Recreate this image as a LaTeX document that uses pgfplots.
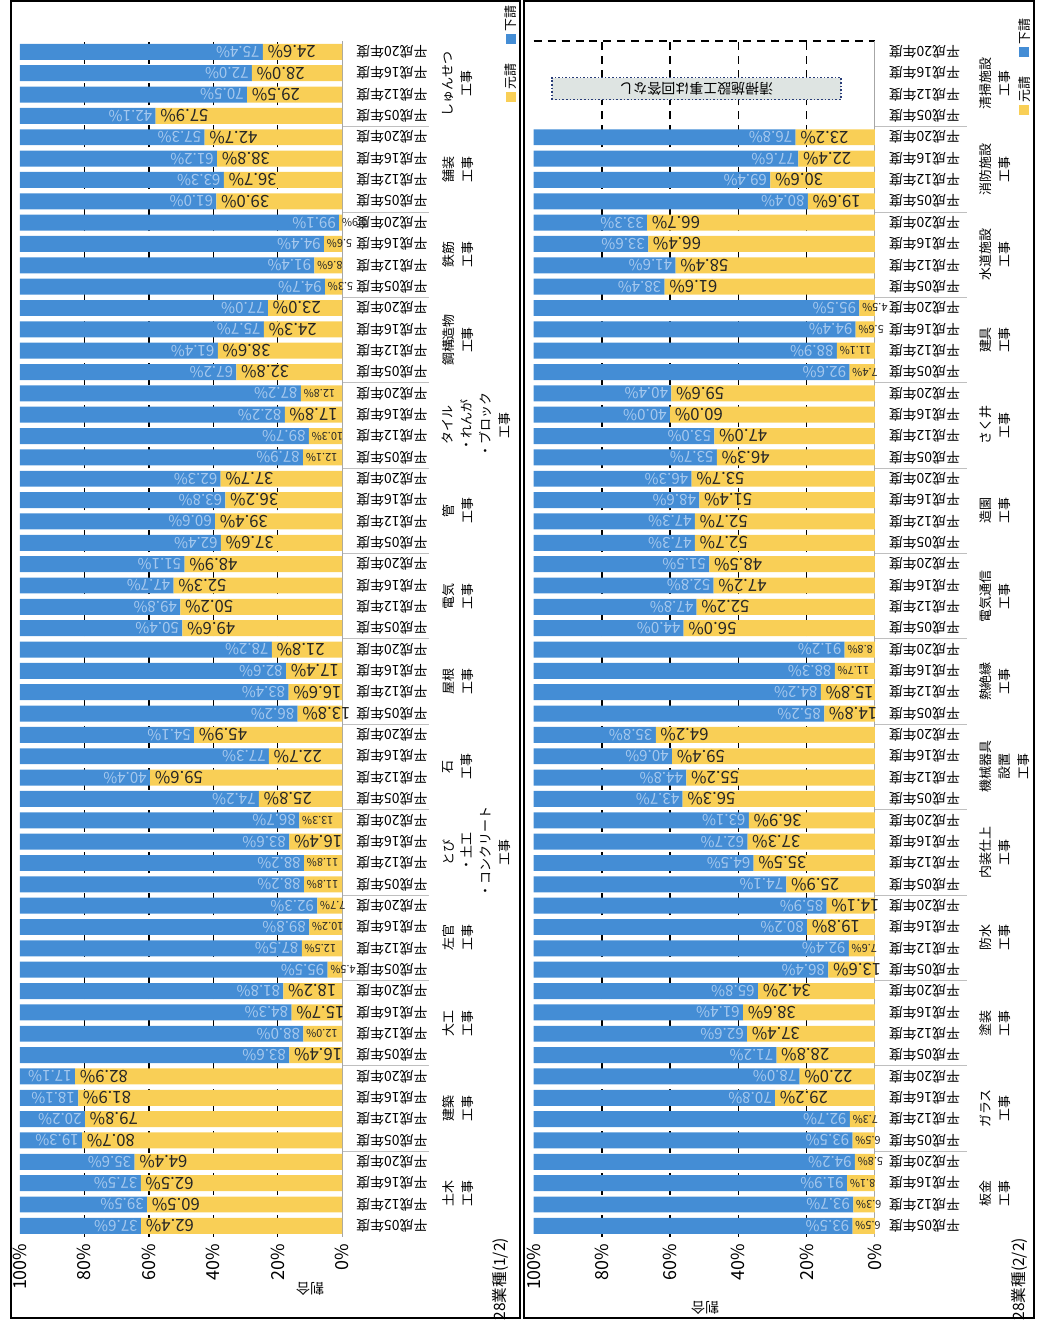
\documentclass[border=0pt]{standalone}
\usepackage{pgfplots}
\pgfplotsset{compat=1.18}
\usepackage{pgfplotstable}
\usepackage{fontspec}
\setmainfont{Noto Sans CJK JP}
\definecolor{gen}{RGB}{249,207,86}
\definecolor{sub}{RGB}{68,141,213}
\definecolor{sublbl}{RGB}{165,200,238}
\definecolor{boxfill}{RGB}{222,228,226}
\definecolor{boxline}{RGB}{40,60,120}

% left panel: y index, gen = 元請 (%), sub = 下請 (%)
\pgfplotstableread{
y gen sub
0 62.4 37.6
1 60.5 39.5
2 62.5 37.5
3 64.4 35.6
4 80.7 19.3
5 79.8 20.2
6 81.9 18.1
7 82.9 17.1
8 16.4 83.6
9 12.0 88.0
10 15.7 84.3
11 18.2 81.8
12 4.5 95.5
13 12.5 87.5
14 10.2 89.8
15 7.7 92.3
16 11.8 88.2
17 11.8 88.2
18 16.4 83.6
19 13.3 86.7
20 25.8 74.2
21 59.6 40.4
22 22.7 77.3
23 45.9 54.1
24 13.8 86.2
25 16.6 83.4
26 17.4 82.6
27 21.8 78.2
28 49.6 50.4
29 50.2 49.8
30 52.3 47.7
31 48.9 51.1
32 37.6 62.4
33 39.4 60.6
34 36.2 63.8
35 37.7 62.3
36 12.1 87.9
37 10.3 89.7
38 17.8 82.2
39 12.8 87.2
40 32.8 67.2
41 38.6 61.4
42 24.3 75.7
43 23.0 77.0
44 5.3 94.7
45 8.6 91.4
46 5.6 94.4
47 0.9 99.1
48 39.0 61.0
49 36.7 63.3
50 38.8 61.2
51 42.7 57.3
52 57.9 42.1
53 29.5 70.5
54 28.0 72.0
55 24.6 75.4
}\leftdata

\pgfplotstableread{
y gen sub
0 6.5 93.5
1 6.3 93.7
2 8.1 91.9
3 5.8 94.2
4 6.5 93.5
5 7.3 92.7
6 29.2 70.8
7 22.0 78.0
8 28.8 71.2
9 37.4 62.6
10 38.6 61.4
11 34.2 65.8
12 13.6 86.4
13 7.6 92.4
14 19.8 80.2
15 14.1 85.9
16 25.9 74.1
17 35.5 64.5
18 37.3 62.7
19 36.9 63.1
20 56.3 43.7
21 55.2 44.8
22 59.4 40.6
23 64.2 35.8
24 14.8 85.2
25 15.8 84.2
26 11.7 88.3
27 8.8 91.2
28 56.0 44.0
29 52.2 47.8
30 47.2 52.8
31 48.5 51.5
32 52.7 47.3
33 52.7 47.3
34 51.4 48.6
35 53.7 46.3
36 46.3 53.7
37 47.0 53.0
38 60.0 40.0
39 59.6 40.4
40 7.4 92.6
41 11.1 88.9
42 5.6 94.4
43 4.5 95.5
44 61.6 38.4
45 58.4 41.6
46 66.4 33.6
47 66.7 33.3
48 19.6 80.4
49 30.6 69.4
50 22.4 77.6
51 23.2 76.8
}\rightdata

\tikzset{grp/.style={rotate=90, anchor=north, align=center, inner sep=0pt, font=\fontsize{6.5}{9.5}\selectfont}}

\pgfplotsset{
  /pgf/number format/assume math mode=true,
  base/.style={
    scale only axis, x dir=reverse,
    xmin=0, xmax=100, ymin=-0.5, ymax=55.5,
    height=599.2pt, anchor=south west, clip=false,
  },
  bars/.style={
    base, xbar stacked, bar width=8pt,
    axis line style={draw=none},
    xtick={0,20,40,60,80,100},
    xticklabel={\pgfmathprintnumber{\tick}\%},
    xticklabel style={rotate=90, anchor=east, font=\fontsize{9}{10}\selectfont},
    major tick length=0pt,
    ytick={0,...,55},
    yticklabel pos=right,
    yticklabel={\pgfmathparse{int(mod(\ticknum,4))}\ifcase\pgfmathresult 平成05年度\or 平成12年度\or 平成16年度\or 平成20年度\fi},
    yticklabel style={rotate=180, anchor=east, font=\fontsize{7}{8}\selectfont},
    yticklabel shift=3.5pt,
    extra x ticks={20,40,60,80},
    extra x tick labels={},
    extra x tick style={grid=major},
    major grid style={black, dash pattern=on 4pt off 3pt, line width=0.7pt},
  },
  lbl/.style={base, hide axis},
  genlbl/.style={draw=none, mark=none, point meta=explicit,
    nodes near coords={\pgfmathprintnumber[fixed,fixed zerofill,precision=1]{\pgfplotspointmeta}\%},
    every node near coord/.append style={rotate=180, anchor=east, inner sep=2.2pt, text=black!85, font=\fontsize{8.4}{9}\selectfont}},
  gensmall/.style={draw=none, mark=none, point meta=explicit,
    nodes near coords={\pgfmathprintnumber[fixed,fixed zerofill,precision=1]{\pgfplotspointmeta}\%},
    every node near coord/.append style={rotate=180, anchor=east, inner sep=1.2pt, text=black!85, font=\fontsize{5.5}{6}\selectfont}},
  sublbl/.style={draw=none, mark=none, point meta=explicit,
    nodes near coords={\pgfmathprintnumber[fixed,fixed zerofill,precision=1]{\pgfplotspointmeta}\%},
    every node near coord/.append style={rotate=180, anchor=west, inner sep=1.5pt, text=sublbl, font=\fontsize{7.6}{8}\selectfont}},
}

\begin{document}
\begin{tikzpicture}
\path (0,0) rectangle (520pt,663.5pt);
\draw[line width=1pt] (5.5pt,3pt) rectangle (260.5pt,663pt);
\draw[line width=1pt] (262.5pt,3pt) rectangle (518.5pt,663pt);

% ---------------- left panel (1/2) ----------------
\begin{axis}[bars, at={(10pt,43.65pt)}, width=161.5pt]
\addplot[fill=gen, draw=none] table[x=gen,y=y]{\leftdata};
\addplot[fill=sub, draw=none] table[x=sub,y=y]{\leftdata};
\draw[gray!70, line width=0.5pt] (axis cs:0,-0.5) -- (axis cs:0,55.5);
\pgfplotsinvokeforeach{3.5,7.5,11.5,15.5,19.5,23.5,27.5,31.5,35.5,39.5,43.5,47.5,51.5}{
  \draw[gray!50, line width=0.4pt] (axis cs:0,#1) -- (axis cs:-27,#1);}
\node[grp] at (axis cs:-31,1.5) {土木\\工事};
\node[grp] at (axis cs:-31,5.5) {建築\\工事};
\node[grp] at (axis cs:-31,9.5) {大工\\工事};
\node[grp] at (axis cs:-31,13.5) {左官\\工事};
\node[grp] at (axis cs:-31,17.5) {とび\\・土工\\・コンクリート\\工事};
\node[grp] at (axis cs:-31,21.5) {石\\工事};
\node[grp] at (axis cs:-31,25.5) {屋根\\工事};
\node[grp] at (axis cs:-31,29.5) {電気\\工事};
\node[grp] at (axis cs:-31,33.5) {管\\工事};
\node[grp] at (axis cs:-31,37.5) {タイル\\・れんが\\・ブロック\\工事};
\node[grp] at (axis cs:-31,41.5) {鋼構造物\\工事};
\node[grp] at (axis cs:-31,45.5) {鉄筋\\工事};
\node[grp] at (axis cs:-31,49.5) {舗装\\工事};
\node[grp] at (axis cs:-31,53.5) {しゅんせつ\\工事};
\node[rotate=180, font=\fontsize{7}{8}\selectfont] at (axis cs:9.9,-2.94) {割合};
\node[rotate=90, font=\fontsize{7.8}{9}\selectfont] at (axis cs:-49.2,-2.5) {28業種(1/2)};
\node[rotate=90, font=\fontsize{6.5}{8}\selectfont, inner sep=0pt] at (axis cs:-52.3,54.9)
  {\textcolor{gen}{\rule{5pt}{5pt}}\,元請\hspace{10pt}\textcolor{sub}{\rule{5pt}{5pt}}\,下請};
\end{axis}
\begin{axis}[lbl, at={(10pt,43.65pt)}, width=161.5pt]
\addplot[genlbl, restrict x to domain=13.5:100] table[x=gen,y=y,meta=gen]{\leftdata};
\addplot[gensmall, restrict x to domain=0:13.49] table[x=gen,y=y,meta=gen]{\leftdata};
\addplot[sublbl] table[x=gen,y=y,meta=sub]{\leftdata};
\end{axis}

% ---------------- right panel (2/2) ----------------
\begin{axis}[bars, at={(267.5pt,43.65pt)}, width=171pt]
\addplot[fill=gen, draw=none] table[x=gen,y=y]{\rightdata};
\addplot[fill=sub, draw=none] table[x=sub,y=y]{\rightdata};
\draw[gray!70, line width=0.5pt] (axis cs:0,-0.5) -- (axis cs:0,55.5);
\draw[black, dash pattern=on 4pt off 3pt, line width=0.7pt] (axis cs:100,55.5) -- (axis cs:0,55.5);
\pgfplotsinvokeforeach{3.5,7.5,11.5,15.5,19.5,23.5,27.5,31.5,35.5,39.5,43.5,47.5,51.5}{
  \draw[gray!50, line width=0.4pt] (axis cs:0,#1) -- (axis cs:-27,#1);}
\node[grp] at (axis cs:-30.7,1.5) {板金\\工事};
\node[grp] at (axis cs:-30.7,5.5) {ガラス\\工事};
\node[grp] at (axis cs:-30.7,9.5) {塗装\\工事};
\node[grp] at (axis cs:-30.7,13.5) {防水\\工事};
\node[grp] at (axis cs:-30.7,17.5) {内装仕上\\工事};
\node[grp] at (axis cs:-30.7,21.5) {機械器具\\設置\\工事};
\node[grp] at (axis cs:-30.7,25.5) {熱絶縁\\工事};
\node[grp] at (axis cs:-30.7,29.5) {電気通信\\工事};
\node[grp] at (axis cs:-30.7,33.5) {造園\\工事};
\node[grp] at (axis cs:-30.7,37.5) {さく井\\工事};
\node[grp] at (axis cs:-30.7,41.5) {建具\\工事};
\node[grp] at (axis cs:-30.7,45.5) {水道施設\\工事};
\node[grp] at (axis cs:-30.7,49.5) {消防施設\\工事};
\node[grp] at (axis cs:-30.7,53.5) {清掃施設\\工事};
\node[draw=boxline, densely dotted, line width=0.8pt, fill=boxfill, minimum width=145pt,
  minimum height=11pt, inner sep=0pt, rotate=180, font=\fontsize{7}{8}\selectfont]
  at (axis cs:52.3,53.28) {清掃施設工事は回答なし};
\node[rotate=180, font=\fontsize{7}{8}\selectfont] at (axis cs:49.7,-3.83) {割合};
\node[rotate=90, font=\fontsize{7.8}{9}\selectfont] at (axis cs:-42.4,-2.5) {28業種(2/2)};
\node[rotate=90, font=\fontsize{6.5}{8}\selectfont, inner sep=0pt] at (axis cs:-43.9,54.3)
  {\textcolor{gen}{\rule{5pt}{5pt}}\,元請\hspace{10pt}\textcolor{sub}{\rule{5pt}{5pt}}\,下請};
\end{axis}
\begin{axis}[lbl, at={(267.5pt,43.65pt)}, width=171pt]
\addplot[genlbl, restrict x to domain=13.5:100] table[x=gen,y=y,meta=gen]{\rightdata};
\addplot[gensmall, restrict x to domain=0:13.49] table[x=gen,y=y,meta=gen]{\rightdata};
\addplot[sublbl] table[x=gen,y=y,meta=sub]{\rightdata};
\end{axis}
\end{tikzpicture}
\end{document}
